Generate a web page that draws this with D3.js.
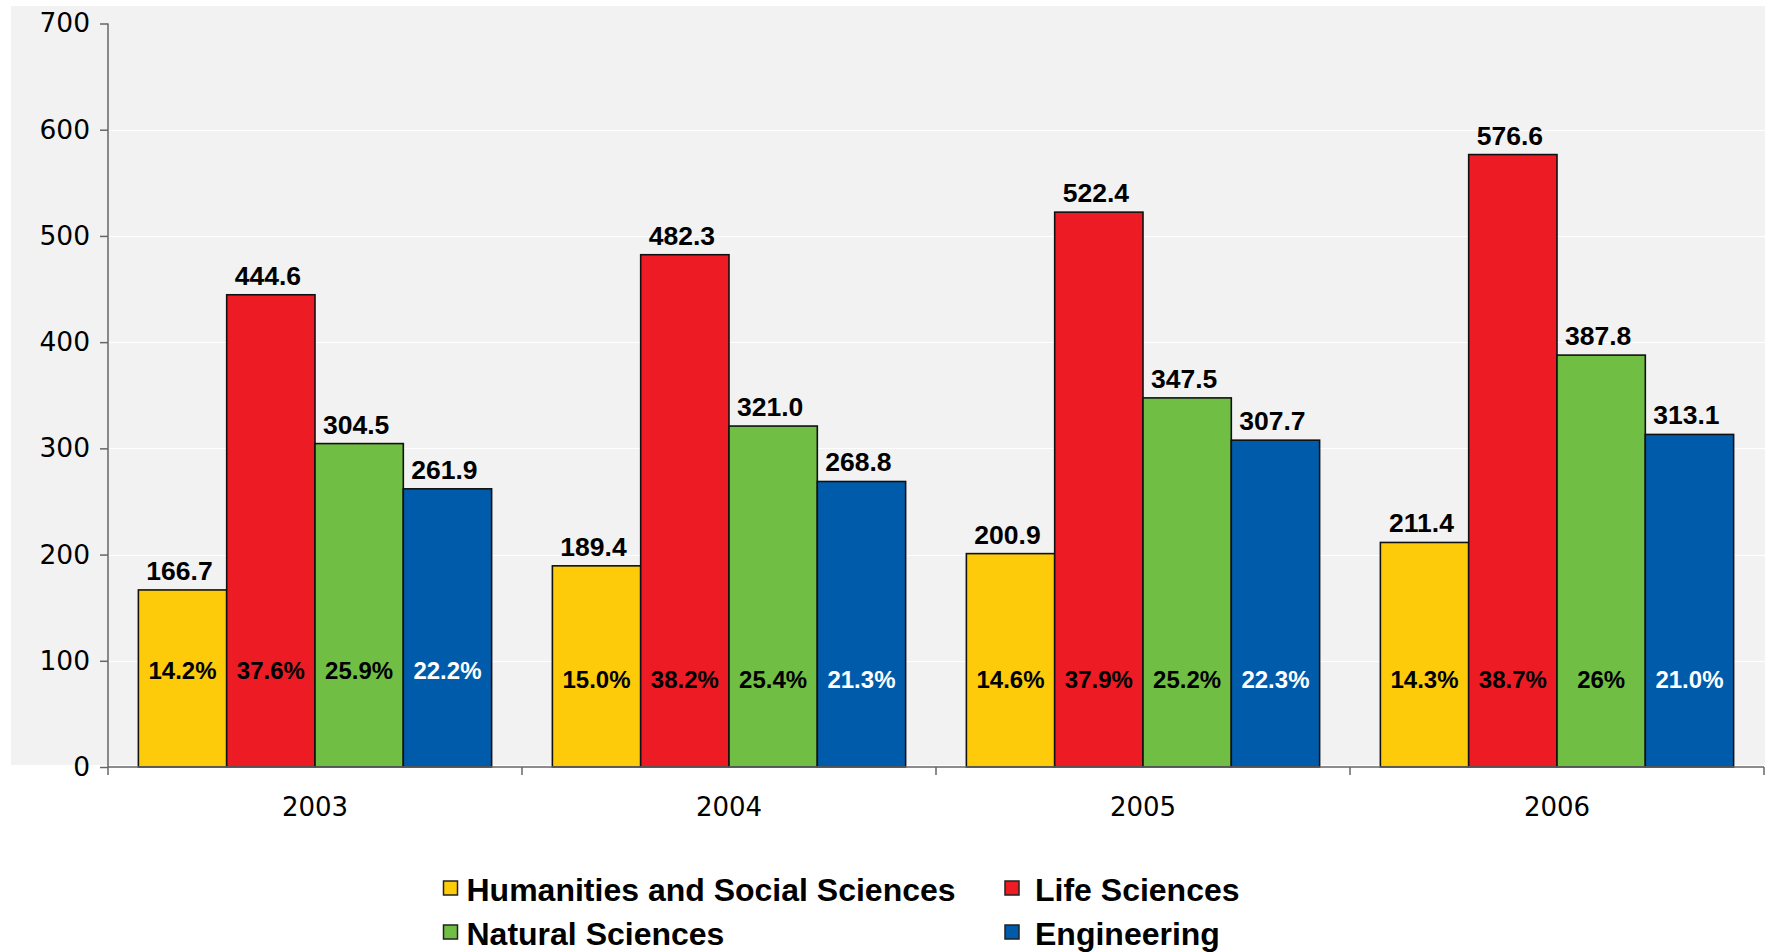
<!DOCTYPE html>
<html>
<head>
<meta charset="utf-8">
<script src="https://cdn.jsdelivr.net/npm/d3@7"></script>
<style>
  html, body { margin: 0; padding: 0; background: #ffffff; }
  svg { display: block; }
</style>
</head>
<body>
<svg id="chart" width="1765" height="952"></svg>
<script>
// Researchers by field of science, 2003–2006
const years = ["2003", "2004", "2005", "2006"];
const seriesNames = ["Humanities and Social Sciences", "Life Sciences", "Natural Sciences", "Engineering"];

const humanities  = [166.7, 189.4, 200.9, 211.4];
const life        = [444.6, 482.3, 522.4, 576.6];
const natural     = [304.5, 321.0, 347.5, 387.8];
const engineering = [261.9, 268.8, 307.7, 313.1];

const humanitiesShare  = ["14.2%", "15.0%", "14.6%", "14.3%"];
const lifeShare        = ["37.6%", "38.2%", "37.9%", "38.7%"];
const naturalShare     = ["25.9%", "25.4%", "25.2%", "26%"];
const engineeringShare = ["22.2%", "21.3%", "22.3%", "21.0%"];

const yTicks = [0, 100, 200, 300, 400, 500, 600, 700];

const seriesColors = ["#fdcb0a", "#ed1c24", "#70be44", "#005baa"];
const shareTextColors = ["#000000", "#000000", "#000000", "#ffffff"];

const valuesBySeries = [humanities, life, natural, engineering];
const sharesBySeries = [humanitiesShare, lifeShare, naturalShare, engineeringShare];

const rows = [];
years.forEach((yr, i) => {
  seriesNames.forEach((s, j) => {
    rows.push({ year: yr, series: s, si: j, value: valuesBySeries[j][i], share: sharesBySeries[j][i] });
  });
});

const svg = d3.select("#chart");

// plot geometry
const plotLeft = 108, plotRight = 1764, plotTop = 23.5, plotBottom = 767;

const x0 = d3.scaleBand().domain(years).range([plotLeft, plotRight]).paddingInner(0).paddingOuter(0);
const x1 = d3.scaleBand().domain(seriesNames).range([0, x0.bandwidth()]).paddingInner(0).paddingOuter(0.344);
const y = d3.scaleLinear().domain([0, 700]).range([plotBottom, plotTop]);

// grey plotting area
svg.append("rect")
  .attr("x", 11).attr("y", 6)
  .attr("width", 1765 - 11).attr("height", 765 - 6)
  .attr("fill", "#f2f2f2");

// horizontal gridlines
svg.append("g")
  .selectAll("line")
  .data(yTicks.filter(t => t > 0 && t < 700))
  .join("line")
  .attr("x1", plotLeft).attr("x2", 1765)
  .attr("y1", d => Math.round(y(d)) + 0.5).attr("y2", d => Math.round(y(d)) + 0.5)
  .attr("stroke", "#ffffff").attr("stroke-width", 1.2);

// bars
svg.append("g")
  .selectAll("rect")
  .data(rows)
  .join("rect")
  .attr("x", d => x0(d.year) + x1(d.series))
  .attr("y", d => y(d.value))
  .attr("width", x1.bandwidth())
  .attr("height", d => y(0) - y(d.value))
  .attr("fill", d => seriesColors[d.si])
  .attr("stroke", "#111111")
  .attr("stroke-width", 1.6);

// value labels above bars
svg.append("g")
  .selectAll("text")
  .data(rows)
  .join("text")
  .attr("x", d => x0(d.year) + x1(d.series) + x1.bandwidth() / 2 - 3)
  .attr("y", d => y(d.value) - 10)
  .attr("text-anchor", "middle")
  .attr("font-family", "'Liberation Sans', Arial, sans-serif")
  .attr("font-weight", "bold")
  .attr("font-size", 26.5)
  .attr("fill", "#000000")
  .text(d => d3.format(".1f")(d.value));

// share labels inside bars
svg.append("g")
  .selectAll("text")
  .data(rows)
  .join("text")
  .attr("x", d => x0(d.year) + x1(d.series) + x1.bandwidth() / 2)
  .attr("y", d => d.year === "2003" ? y(83) : y(74))
  .attr("text-anchor", "middle")
  .attr("font-family", "'Liberation Sans', Arial, sans-serif")
  .attr("font-weight", "bold")
  .attr("font-size", 24)
  .attr("fill", d => shareTextColors[d.si])
  .text(d => d.share);

// y axis
const yAxis = d3.axisLeft(y).tickValues(yTicks).tickSize(8).tickPadding(10).tickFormat(d3.format("d"));
const gy = svg.append("g").attr("transform", `translate(${plotLeft},0)`).call(yAxis);
gy.select(".domain").remove();
gy.selectAll(".tick line").attr("stroke", "#666666").attr("stroke-width", 1.5);
gy.selectAll(".tick text")
  .attr("font-family", "'DejaVu Sans', Verdana, sans-serif")
  .attr("font-size", 26.5)
  .attr("fill", "#000000");
svg.append("line")
  .attr("x1", plotLeft).attr("x2", plotLeft)
  .attr("y1", plotTop).attr("y2", plotBottom + 8)
  .attr("stroke", "#666666").attr("stroke-width", 1.5);

// x axis
const gx = svg.append("g").attr("transform", `translate(0,${plotBottom})`);
gx.append("line")
  .attr("x1", plotLeft).attr("x2", plotRight)
  .attr("stroke", "#666666").attr("stroke-width", 1.5);
gx.selectAll("line.tick")
  .data(years)
  .join("line")
  .attr("class", "tick")
  .attr("x1", d => x0(d) + x0.bandwidth()).attr("x2", d => x0(d) + x0.bandwidth())
  .attr("y1", 0).attr("y2", 8)
  .attr("stroke", "#666666").attr("stroke-width", 1.5);
gx.selectAll("text")
  .data(years)
  .join("text")
  .attr("x", d => x0(d) + x0.bandwidth() / 2)
  .attr("y", 49)
  .attr("text-anchor", "middle")
  .attr("font-family", "'DejaVu Sans', Verdana, sans-serif")
  .attr("font-size", 26)
  .attr("fill", "#000000")
  .text(d => d);

// legend (two columns, two rows)
const legendCols = [443.5, 1005];
const legendTextOffsets = [23, 30];
const legendRows = [881, 925];
const legend = svg.append("g")
  .selectAll("g")
  .data(seriesNames)
  .join("g")
  .attr("transform", (d, i) => `translate(${legendCols[i % 2]},${legendRows[Math.floor(i / 2)]})`);
legend.append("rect")
  .attr("x", 0).attr("y", 0)
  .attr("width", 14).attr("height", 14)
  .attr("fill", (d, i) => seriesColors[i])
  .attr("stroke", "#222222").attr("stroke-width", 1.5);
legend.append("text")
  .attr("x", (d, i) => legendTextOffsets[i % 2])
  .attr("y", 20)
  .attr("font-family", "'Liberation Sans', Arial, sans-serif")
  .attr("font-weight", "bold")
  .attr("font-size", 32)
  .attr("fill", "#000000")
  .text(d => d);
</script>
</body>
</html>
